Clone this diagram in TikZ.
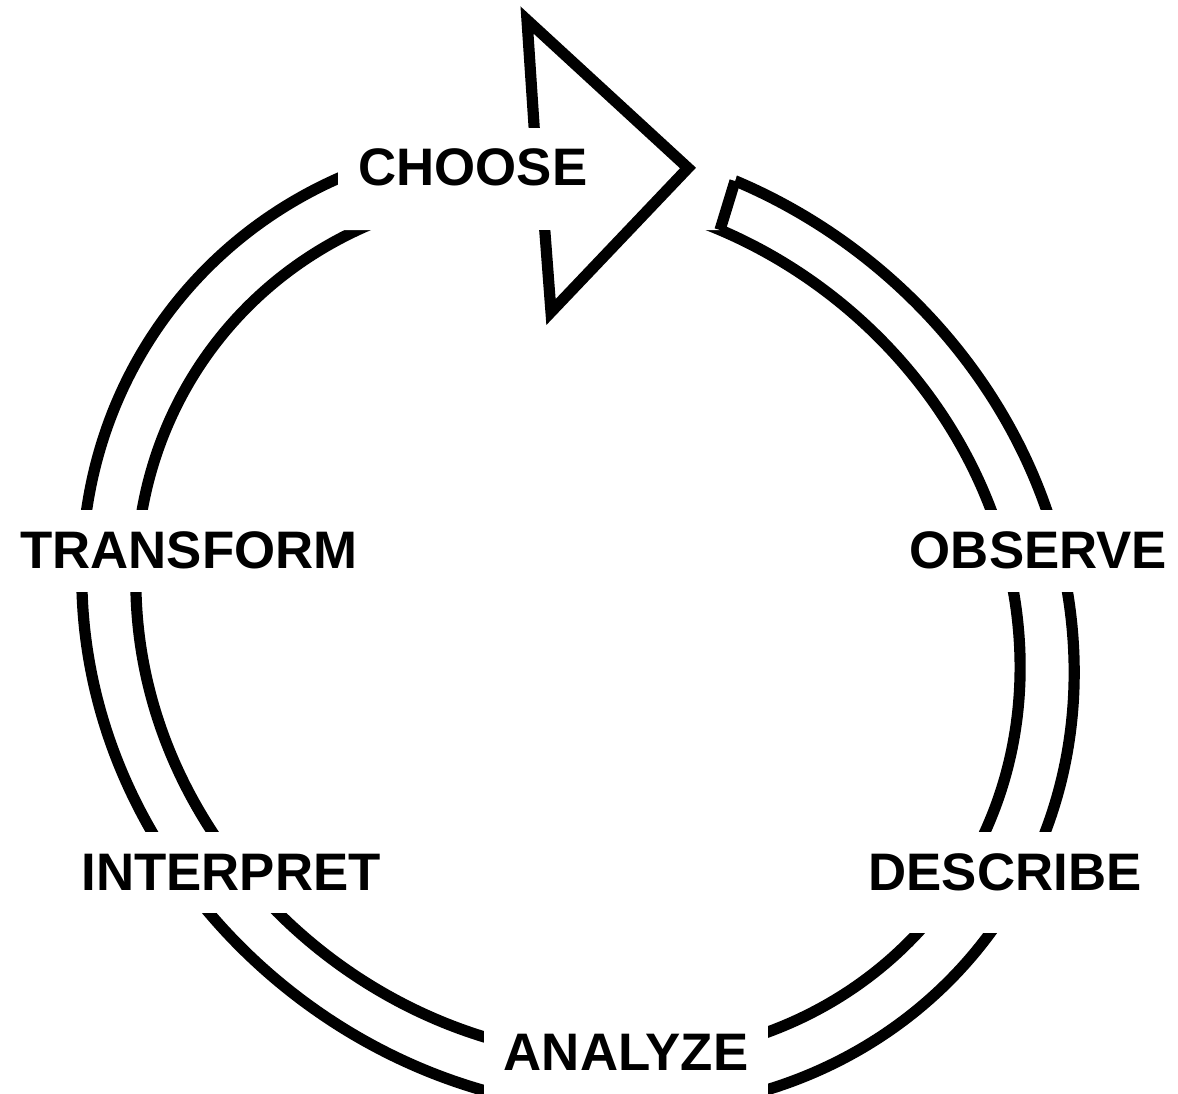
\documentclass[tikz,border=0pt]{standalone}
\usepackage{fontspec}
\setmainfont{Liberation Sans}
\begin{document}
\begin{tikzpicture}[x=0.5pt,y=-0.5pt, line join=miter,
  ring/.style={line width=5.6pt},
  lab/.style={fill=white, inner ysep=0pt, inner xsep=10pt,
    font=\bfseries\fontsize{26.4}{30}\selectfont, anchor=base}]
\useasboundingbox (0,0) rectangle (1178,1093);
% the two rings (slightly sheared ellipses)
\begin{scope}[shift={(578,624.6)}, xslant=-0.0993]
  \draw[ring] (0,0) ellipse [x radius=493.8, y radius=485.8];
  \draw[ring] (0,0) ellipse [x radius=440, y radius=433];
\end{scope}
% opening at the top, between CHOOSE and the tail
\coordinate (tailout) at (735,181);
\coordinate (tailin) at (720,230);
\fill[white] (338,60) -- (338,230) -- (tailin) -- (760,100) -- (760,60) -- cycle;
% tail end of the ring
\draw[ring, line cap=square] (tailout) -- (tailin);
% arrow head
\coordinate (b1) at (535,140);
\coordinate (b2) at (527,20);
\coordinate (tip) at (688,168);
\coordinate (b4) at (551,312);
\coordinate (b5) at (544,220);
\draw[ring] (b1) -- (b2) -- (tip) -- (b4) -- (b5);
% labels
\node[lab, text height=28.5pt, text depth=22.5pt, anchor=base west] (choose) at (338,185) {CHOOSE};
\node[lab, text height=29pt, text depth=12pt] (transform) at (189,568) {TRANSFORM};
\node[lab, text height=29pt, text depth=12pt] (observe) at (1038.5,568) {OBSERVE};
\node[lab, text height=29pt, text depth=11.5pt] (interpret) at (231,890) {INTERPRET};
\node[lab, text height=29pt, text depth=21.5pt] (describe) at (1005,890) {DESCRIBE};
\node[lab, text height=29pt, text depth=25pt] (analyze) at (626,1070) {ANALYZE};
\end{tikzpicture}
\end{document}
